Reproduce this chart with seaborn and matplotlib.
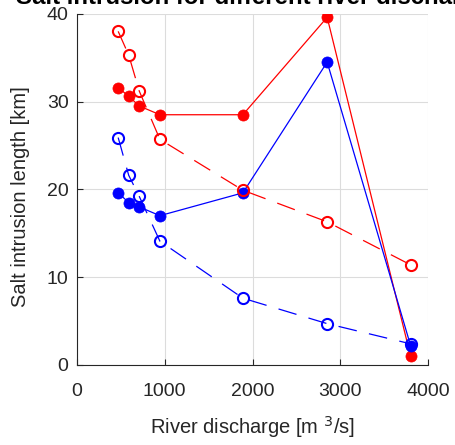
import matplotlib
matplotlib.use("Agg")
import matplotlib.pyplot as plt
import seaborn as sns
import pandas as pd

# River discharge [m^3/s]
discharge = [470, 590, 710, 945, 1890, 2850, 3800]

# Salt intrusion length [km]
red_solid = [31.6, 30.6, 29.5, 28.5, 28.5, 39.6, 1.0]
red_dashed = [38.0, 35.3, 31.2, 25.7, 19.9, 16.3, 11.4]
blue_solid = [19.6, 18.5, 18.0, 17.0, 19.6, 34.5, 2.2]
blue_dashed = [25.9, 21.6, 19.2, 14.1, 7.6, 4.7, 2.4]

x_ticks = [0, 1000, 2000, 3000, 4000]
y_ticks = [0, 10, 20, 30, 40]

sns.set_theme(style="white")
plt.rcParams["font.family"] = ["Liberation Sans", "DejaVu Sans"]

fig = plt.figure(figsize=(4.55, 4.45), dpi=100)
ax = fig.add_axes([0.169, 0.180, 0.772, 0.789])

df = pd.DataFrame({
    "Q": discharge,
    "red_solid": red_solid,
    "red_dashed": red_dashed,
    "blue_solid": blue_solid,
    "blue_dashed": blue_dashed,
})

dash = (0, (15, 10))
series = [
    ("red_solid", "#ff0000", "-", True),
    ("blue_solid", "#0000ff", "-", True),
    ("red_dashed", "#ff0000", dash, False),
    ("blue_dashed", "#0000ff", dash, False),
]
for col, color, ls, filled in series:
    sns.lineplot(
        data=df, x="Q", y=col, ax=ax, sort=False, color=color,
        linestyle=ls, linewidth=0.9, marker="o", markersize=8,
        markerfacecolor=color if filled else "none",
        markeredgecolor=color, markeredgewidth=1.5 if not filled else 0.5,
    )

ax.set_xlim(0, 4000)
ax.set_ylim(0, 40)
ax.set_xticks(x_ticks)
ax.set_yticks(y_ticks)
ax.grid(True, color="#dcdcdc", linewidth=0.8)
ax.set_axisbelow(True)
for s in ["top", "right"]:
    ax.spines[s].set_visible(False)
for s in ["left", "bottom"]:
    ax.spines[s].set_color("#262626")
    ax.spines[s].set_linewidth(0.8)
ax.tick_params(axis="both", direction="in", length=4, width=0.8,
               colors="#262626", labelsize=14, pad=6,
               bottom=True, left=True)
ax.tick_params(axis="x", pad=13)
ax.set_xlabel("River discharge [m $^{3}$/s]", fontsize=14.5, color="#262626", labelpad=10)
ax.set_ylabel("Salt intrusion length [km]", fontsize=14.5, color="#262626", labelpad=12)
ax.yaxis.label.set_y(0.48)
ax.set_title("Salt intrusion for different river discharge",
             fontsize=17.3, fontweight="bold", color="black", pad=7)

fig.savefig("out.png", dpi=100)
